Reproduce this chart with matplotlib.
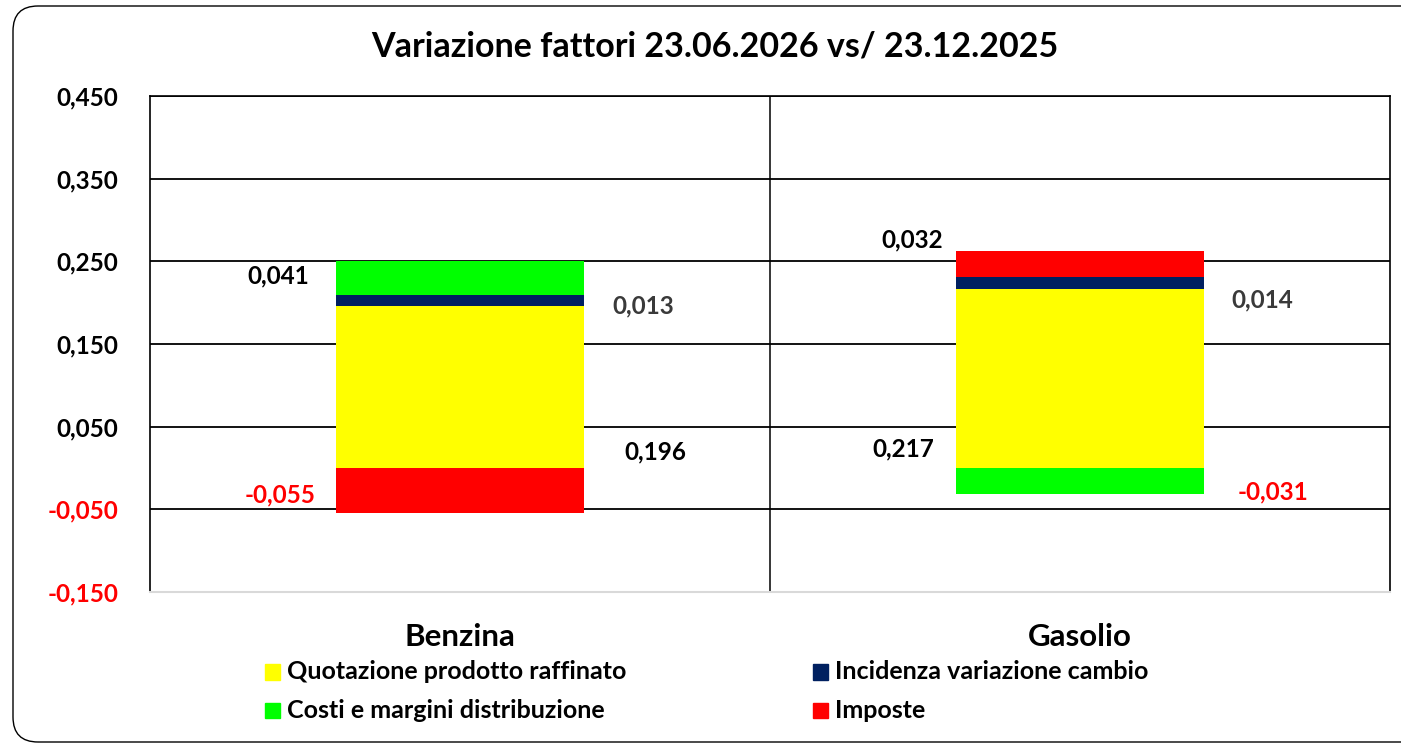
import matplotlib.pyplot as plt
import numpy as np
from matplotlib.patches import FancyBboxPatch, Rectangle

plt.rcParams['font.family'] = ['Lato', 'DejaVu Sans']
plt.rcParams['font.weight'] = 'bold'

categories = ['Benzina', 'Gasolio']
series = ['Quotazione prodotto raffinato', 'Incidenza variazione cambio',
          'Costi e margini distribuzione', 'Imposte']
quotazione = [0.196, 0.217]
cambio = [0.013, 0.014]
costi = [0.041, -0.031]
imposte = [-0.055, 0.032]
values = [quotazione, cambio, costi, imposte]
colors = ['#ffff00', '#002060', '#00ff00', '#ff0000']
yticks = [-0.150, -0.050, 0.050, 0.150, 0.250, 0.350, 0.450]

# label placement (x offset from bar centre, y in data units) per series/category
lab_pos = {
    (0, 0): (0.315, 0.019), (0, 1): (-0.285, 0.023),
    (1, 0): (0.295, 0.196), (1, 1): (0.294, 0.203),
    (2, 0): (-0.294, 0.232), (2, 1): (0.311, -0.029),
    (3, 0): (-0.29, -0.033), (3, 1): (-0.27, 0.276),
}
lab_col = ['black', '#3a3a3a', 'black', 'black']

fig = plt.figure(figsize=(14.01, 7.44), dpi=100)
ax = fig.add_axes([0.1071, 0.2043, 0.8851, 0.6667])

x = np.arange(len(categories))
pos_base = np.zeros(len(categories))
neg_base = np.zeros(len(categories))
for i, vals in enumerate(values):
    vals = np.array(vals)
    base = np.where(vals >= 0, pos_base, neg_base)
    ax.bar(x, vals, 0.4, bottom=base, color=colors[i], zorder=3, label=series[i])
    for j, v in enumerate(vals):
        dx, yy = lab_pos[(i, j)]
        col = 'red' if v < 0 else lab_col[i]
        ax.text(x[j] + dx, yy, f'{v:.3f}'.replace('.', ','), ha='center', va='center',
                fontsize=17.5, fontweight='bold', color=col, zorder=4)
    pos_base = pos_base + np.where(vals >= 0, vals, 0)
    neg_base = neg_base + np.where(vals < 0, vals, 0)

ax.set_xlim(-0.5, 1.5)
ax.set_ylim(-0.15, 0.45)
ax.set_yticks(yticks)
ax.set_yticklabels([f'{t:.3f}'.replace('.', ',') for t in yticks])
for lab, t in zip(ax.get_yticklabels(), yticks):
    lab.set_color('red' if t < 0 else 'black')
ax.tick_params(axis='y', length=0, pad=23, labelsize=17.5)
ax.set_xticks(x)
ax.set_xticklabels(categories, fontsize=22.5, fontweight='bold')
ax.tick_params(axis='x', length=0, pad=22)
ax.yaxis.grid(True, color='black', linewidth=1.3, zorder=1)
ax.set_axisbelow(True)
ax.axvline(0.5, color='black', linewidth=1.1, zorder=2)
for s in ['left', 'right', 'top']:
    ax.spines[s].set_linewidth(1.2)
ax.spines['bottom'].set_color('#d9d9d9')
ax.spines['bottom'].set_linewidth(1.5)

fig.text(0.51, 0.938, 'Variazione fattori 23.06.2026 vs/ 23.12.2025', ha='center',
         va='center', fontsize=24.5, fontweight='bold')

# legend, two columns
leg_x = [0.189, 0.58]
leg_y = [0.097, 0.045]
for i, row in [(0, 0), (1, 0), (2, 1), (3, 1)]:
    col = 0 if i in (0, 2) else 1
    lx, ly = leg_x[col], leg_y[row]
    fig.patches.append(Rectangle((lx, ly - 0.0105), 0.0107, 0.021, transform=fig.transFigure,
                                 color=colors[i], figure=fig))
    fig.text(lx + 0.016, ly, series[i], ha='left', va='center', fontsize=18,
             fontweight='bold')

border = FancyBboxPatch((0.13, 0.02), 14.2, 7.36, boxstyle='round,pad=0,rounding_size=0.25',
                        transform=fig.dpi_scale_trans, fill=False, edgecolor='black',
                        linewidth=1.0, figure=fig)
fig.patches.append(border)

fig.savefig('out.png', dpi=100)
